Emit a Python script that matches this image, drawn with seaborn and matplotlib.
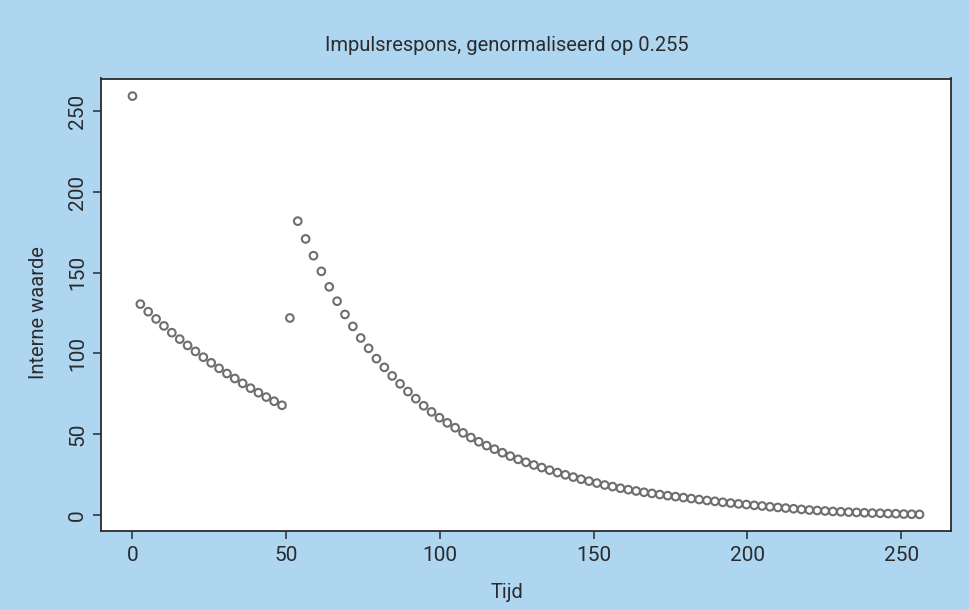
import matplotlib
matplotlib.use('Agg')
import matplotlib.pyplot as plt
import seaborn as sns
import pandas as pd

# time axis (Tijd)
tijd = [0, 2.56, 5.12, 7.68, 10.24, 12.8, 15.36, 17.92, 20.48, 23.04,
        25.6, 28.16, 30.72, 33.28, 35.84, 38.4, 40.96, 43.52, 46.08, 48.64,
        51.2, 53.76, 56.32, 58.88, 61.44, 64, 66.56, 69.12, 71.68, 74.24,
        76.8, 79.36, 81.92, 84.48, 87.04, 89.6, 92.16, 94.72, 97.28, 99.84,
        102.4, 104.96, 107.52, 110.08, 112.64, 115.2, 117.76, 120.32, 122.88, 125.44,
        128, 130.56, 133.12, 135.68, 138.24, 140.8, 143.36, 145.92, 148.48, 151.04,
        153.6, 156.16, 158.72, 161.28, 163.84, 166.4, 168.96, 171.52, 174.08, 176.64,
        179.2, 181.76, 184.32, 186.88, 189.44, 192, 194.56, 197.12, 199.68, 202.24,
        204.8, 207.36, 209.92, 212.48, 215.04, 217.6, 220.16, 222.72, 225.28, 227.84,
        230.4, 232.96, 235.52, 238.08, 240.64, 243.2, 245.76, 248.32, 250.88, 253.44,
        256]

# internal value
waarde = [259.5,
          130.6, 125.9, 121.4, 117.1, 112.9, 108.9, 105.0, 101.3, 97.7, 94.2,
          90.8, 87.6, 84.5, 81.5, 78.5, 75.7, 73.0, 70.4, 67.9,
          122.0,
          182.0, 171.0, 160.6, 150.9, 141.3, 132.4, 124.2, 116.8, 109.6, 103.2,
          96.8, 91.4, 86.1, 81.2, 76.4, 72.0, 67.6, 63.8, 60.2, 57.0,
          54.0, 50.8, 47.9, 45.3, 42.9, 40.7, 38.5, 36.4, 34.4, 32.6,
          30.9, 29.3, 27.7, 26.2, 24.8, 23.4, 22.1, 20.9, 19.7,
          18.5, 17.5, 16.5, 15.6, 14.8, 14.0, 13.3, 12.6, 11.9, 11.3,
          10.7, 10.1, 9.5, 8.9, 8.4, 7.8, 7.3, 6.8, 6.4, 5.9, 5.5,
          5.0, 4.6, 4.2, 3.8, 3.4, 3.0, 2.7, 2.4, 2.1, 1.9,
          1.7, 1.5, 1.3, 1.1, 1.0, 0.8, 0.7, 0.5, 0.4, 0.3]

x_ticks = [0, 50, 100, 150, 200, 250]
y_ticks = [0, 50, 100, 150, 200, 250]

df = pd.DataFrame({'Tijd': tijd, 'Interne waarde': waarde})

sns.set_style('white')
plt.rcParams['font.family'] = ['Liberation Sans Narrow', 'Roboto', 'DejaVu Sans']

bg = '#aed6f1'
ink = '#2b2b2b'

fig = plt.figure(figsize=(9.69, 6.10), dpi=100, facecolor=bg)
ax = fig.add_axes([101/969, 1 - 531/610, 850/969, 452.5/610])
ax.set_facecolor('white')

sns.scatterplot(data=df, x='Tijd', y='Interne waarde', ax=ax, marker='o',
                s=30, facecolors='none', edgecolor='#6e6e6e', linewidth=1.5)

ax.set_xlim(-10.24, 266.24)
ax.set_ylim(-10.0, 270.4)
ax.set_xticks(x_ticks)
ax.set_yticks(y_ticks)
ax.tick_params(axis='both', direction='out', length=6, width=1.1, color=ink,
               labelsize=15, labelcolor=ink, left=True, bottom=True)
ax.tick_params(axis='x', pad=5)
ax.tick_params(axis='y', pad=4)
for lab in ax.get_yticklabels():
    lab.set_rotation(90)
    lab.set_va('center')

for sp in ax.spines.values():
    sp.set_color(ink)
    sp.set_linewidth(1.3)

ax.set_title('Impulsrespons, genormaliseerd op 0.255', fontsize=14.5, color=ink,
             x=0.477, pad=20)
ax.set_xlabel('Tijd', fontsize=14.5, color=ink)
ax.set_ylabel('Interne waarde', fontsize=14.5, color=ink)
ax.xaxis.set_label_coords(0.477, -0.115)
ax.yaxis.set_label_coords(-0.062, 0.483)

fig.savefig('out.png', dpi=100, facecolor=bg)
